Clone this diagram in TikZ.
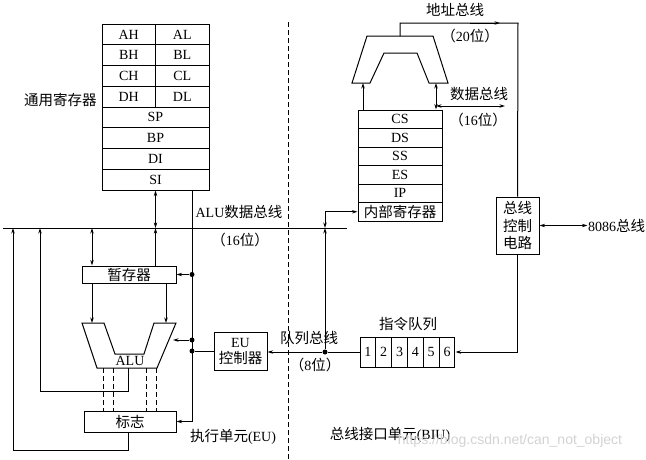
\documentclass[tikz,border=0pt]{standalone}
\usepackage{fontspec}
\setmainfont{Liberation Serif}
\newfontfamily\cjk{Noto Sans CJK SC}
\newfontfamily\wmfont{Liberation Sans}
\usetikzlibrary{arrows.meta}
\newcommand{\zh}[1]{{\cjk\fontsize{14.5}{17}\selectfont #1}}

\begin{document}
\begin{tikzpicture}[x=1pt, y=-1pt, line width=1pt, >={Stealth[length=5.5pt,width=3.4pt]},
	txt/.style={font=\fontsize{14}{16}\selectfont, inner sep=0pt},
	reg/.style={draw, txt, minimum height=20.75pt},
	sreg/.style={draw, txt, minimum width=84pt, minimum height=18.5pt},
	cell/.style={draw, txt, minimum width=15.83pt, minimum height=30pt},
	unit/.style={draw, txt, align=center},
	dot/.style={circle, fill, inner sep=0pt, minimum size=5pt}]
	\useasboundingbox (0,0) rectangle (646,459);
	% EU / BIU divider
	\draw[dash pattern=on 5pt off 3pt] (288,22) -- (288,459);
	% general registers
	\foreach \i/\l/\r in {0/AH/AL,1/BH/BL,2/CH/CL,3/DH/DL} {
		\node[reg, minimum width=53.5pt] (\l) at (128.75, {34.375+20.75*\i}) {\l};
		\node[reg, minimum width=53.5pt] (\r) at (182.25, {34.375+20.75*\i}) {\r};
	}
	\foreach \i/\l in {4/SP,5/BP,6/DI,7/SI}
		\node[reg, minimum width=107pt] (\l) at (155.5, {34.375+20.75*\i}) {\l};
	\node[txt, anchor=east] (gpr) at (97,100) {\zh{通用寄存器}};
	% ALU data bus
	\coordinate (busL) at (3,228);
	\coordinate (busR) at (347,228);
	\draw (busL) -- (busR);
	\node[txt] (alubus) at (239,212) {ALU\zh{数据总线}};
	\node[txt] (alubits) at (240,240) {\zh{（}16\zh{位）}};
	% EU parts
	\node[unit, minimum width=94pt, minimum height=17pt] (tmp) at (129,274.5) {\zh{暂存器}};
	\node[unit, minimum width=92pt, minimum height=21pt] (flag) at (130,421.5) {\zh{标志}};
	\node[unit, minimum width=53pt, minimum height=38pt] (euc) at (240.5,351) {EU\\[0pt]\zh{控制器}};
	\draw (82,323) -- (104,323) -- (115,354) -- (144,354) -- (154,323) -- (176,323) -- (157,368) -- (97,368) -- cycle;
	\node[txt] (alu) at (130,361) {ALU};
	\node[txt] (eu) at (233,437) {\zh{执行单元}(EU)};
	\coordinate (x92) at (92,0);
	\coordinate (x166) at (166,0);
	\coordinate (ctl) at (192,0);
	\coordinate (aluT) at (0,323);
	\coordinate (aluR) at (173,340);
	\coordinate (aluB) at (128,368);
	\coordinate (lp1) at (40,391);
	\coordinate (lp2) at (13,450);
	\draw[<->] (SI.south) -- (SI.south |- busL);
	\draw[->] (SI.south |- tmp.north) -- (SI.south |- busL);
	\draw[<->] (x92 |- busL) -- (x92 |- tmp.north);
	\draw[->] (x92 |- tmp.south) -- (x92 |- aluT);
	\draw[->] (x166 |- tmp.south) -- (x166 |- aluT);
	\foreach \x in {103,113,146,156}
		\draw[dash pattern=on 5pt off 3pt] (\x,368) -- (\x,411);
	\draw[->] (aluB) |- (lp1) -- (lp1 |- busL);
	\draw[->] (flag.south -| aluB) |- (lp2) -- (lp2 |- busL);
	% control lines
	\draw[->] (ctl |- SI.south) |- (flag.east);
	\node[dot] (d1) at (ctl |- tmp.east) {};
	\node[dot] (d2) at (192,340) {};
	\node[dot] (d3) at (ctl |- euc.west) {};
	\draw[->] (d1) -- (tmp.east);
	\draw[->] (d2) -- (aluR);
	\draw (euc.west) -- (d3);
	% segment registers
	\foreach \i/\l in {0/CS,1/DS,2/SS,3/ES,4/IP}
		\node[sreg] (\l) at (400, {119.25+18.5*\i}) {\l};
	\node[sreg] (inner) at (400,211.75) {\zh{内部寄存器}};
	% address adder
	\draw (367,36) -- (433,36) -- (448,83) -- (429,83) -- (417,53) -- (384,53) -- (370,83) -- (352,83) -- cycle;
	\coordinate (addL) at (363,83);
	\coordinate (addR) at (436,83);
	\coordinate (addT) at (400,36);
	\coordinate (dbus) at (505,106);
	\coordinate (abus) at (518,23);
	\draw[->] (addL |- CS.north) -- (addL);
	\draw[<->] (addR |- CS.north) -- (addR);
	\draw[<->] (addR |- dbus) -- (dbus);
	\node[txt] (dbusl) at (479,94) {\zh{数据总线}};
	\node[txt] (dbits) at (478,120) {\zh{（}16\zh{位）}};
	% bus control
	\node[unit, minimum width=43pt, minimum height=57pt, font=\cjk\fontsize{14.5}{17.5}\selectfont] (bcc) at (517.5,225.5) {总线\\控制\\电路};
	\draw (addT) |- (abus) -- (bcc.north);
	\draw[->] (470,23) -- (500,23);
	\node[txt] (abusl) at (455,10) {\zh{地址总线}};
	\node[txt] (abits) at (470,36) {\zh{（}20\zh{位）}};
	\draw[<->] (bcc.east) -- ++(48,0) coordinate (ext);
	\node[txt, anchor=west] (sysbus) at (ext) {8086\zh{总线}};
	% instruction queue
	\foreach \i in {1,...,6}
		\node[cell] (q\i) at ({360+15.83*(\i-0.5)}, 352) {\i};
	\node[txt] (ql) at (408,324) {\zh{指令队列}};
	\draw[->] (bcc.south) |- (q6.east);
	\node[dot] (qd) at (325,352) {};
	\draw (q1.west) -- (qd);
	\draw[->] (qd) -- (euc.east |- qd);
	\draw[->] (qd) -- (qd |- busL);
	\draw[<->] (qd |- busL) |- (inner.west);
	\node[txt] (qbus) at (309,338) {\zh{队列总线}};
	\node[txt] (qbits) at (315,365) {\zh{（}8\zh{位）}};
	\node[txt] (biu) at (390,435) {\zh{总线接口单元}(BIU)};
	\node[font=\wmfont\fontsize{14}{16}\selectfont, text=gray!35, inner sep=0pt] (wm) at (510,441) {https://blog.csdn.net/can\_not\_object};
\end{tikzpicture}
\end{document}
